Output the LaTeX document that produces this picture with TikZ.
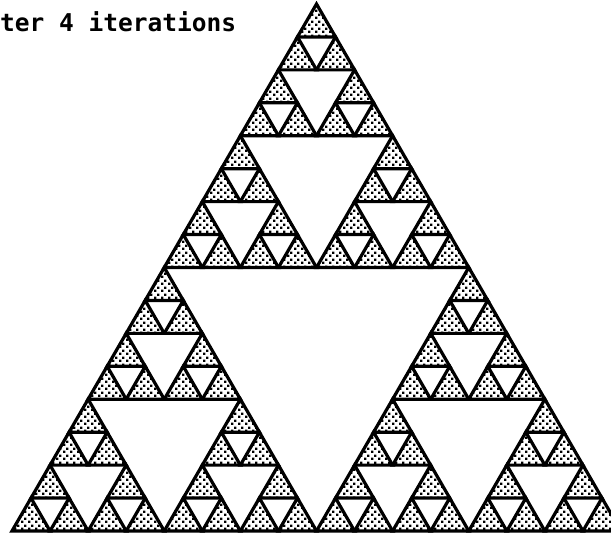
\documentclass[tikz,border=0pt]{standalone}
\usepackage{fontspec}
\newfontfamily\pixfont{DejaVu Sans Mono}
\usetikzlibrary{patterns.meta}
\tikzdeclarepattern{name=stipple,type=uncolored,bounding box={(0pt,0pt) and (7pt,7pt)},tile size={(7pt,7pt)},
  code={\pgfpathrectangle{\pgfpoint{0pt}{0pt}}{\pgfpoint{2.6pt}{2.6pt}}\pgfpathrectangle{\pgfpoint{3.5pt}{3.5pt}}{\pgfpoint{2.6pt}{2.6pt}}\pgfusepath{fill}}}
\tikzset{tinytri/.style={draw=black,line width=3.2pt,line join=miter,pattern=stipple,pattern color=black}}
\begin{document}
\begin{tikzpicture}[x=1pt,y=1pt]
\useasboundingbox (0,0) rectangle (611,537);
\clip (0,0) rectangle (611,537);
\foreach \ax/\ay in {0/0,1/0,.5/1}
\foreach \bx/\by in {0/0,1/0,.5/1}
\foreach \cx/\cy in {0/0,1/0,.5/1}
\foreach \dx/\dy in {0/0,1/0,.5/1} {
  \pgfmathsetmacro\px{12+304.5*\ax+152.25*\bx+76.125*\cx+38.0625*\dx}
  \pgfmathsetmacro\py{6+263.5*\ay+131.75*\by+65.875*\cy+32.9375*\dy}
  \draw[tinytri] (\px,\py) -- ++(38.0625,0) -- ++(-19.03125,32.9375) -- cycle;
}
\node[anchor=base west,inner sep=0pt,font=\pixfont\bfseries\fontsize{24.5}{24.5}\selectfont] (caption) at (0,505) {ter 4 iterations};
\end{tikzpicture}
\end{document}
